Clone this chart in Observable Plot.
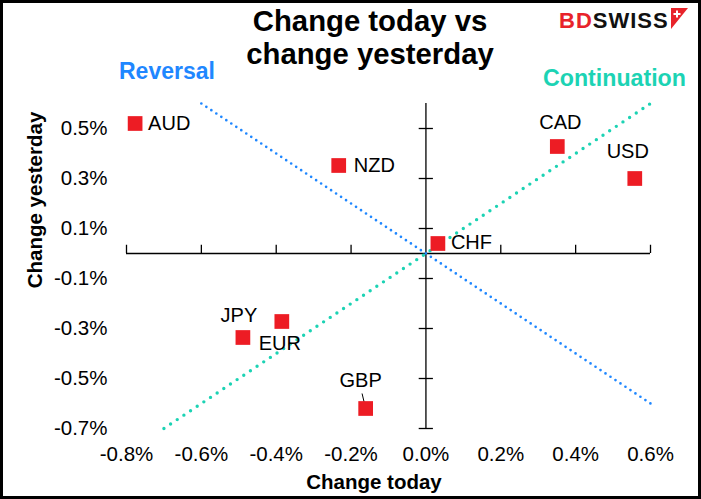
<!DOCTYPE html>
<html><head><meta charset="utf-8">
<script src="https://cdn.jsdelivr.net/npm/d3@7"></script>
<script src="https://cdn.jsdelivr.net/npm/@observablehq/plot@0.6"></script>
<style>
body{margin:0;background:#fff;font-family:"Liberation Sans",Arial,sans-serif}
#wrap{position:relative;width:701px;height:499px;overflow:hidden;background:#fff}
#chart{position:absolute;left:0;top:0}
#frame{position:absolute;left:0;top:0;width:701px;height:499px;box-sizing:border-box;border:3px solid #000;pointer-events:none}
.t{position:absolute;white-space:nowrap;font-weight:bold;font-family:"Liberation Sans",Arial,sans-serif}
</style></head><body>
<div id="wrap">
  <div id="chart"></div>
  <div class="t" style="left:220px;top:4px;width:300px;text-align:center;font-size:29.3px;line-height:33px;color:#000">Change today vs<br>change yesterday</div>
  <div class="t" style="left:119px;top:59px;font-size:23px;line-height:25px;color:#1f87ff">Reversal</div>
  <div class="t" style="left:543px;top:66px;font-size:23.2px;line-height:25px;color:#1cd3b4">Continuation</div>
  <div class="t" style="left:274px;top:470px;width:200px;text-align:center;font-size:20.5px;line-height:24px;color:#000">Change today</div>
  <div class="t" style="left:-65px;top:188px;width:200px;text-align:center;font-size:20.5px;line-height:24px;color:#000;transform:rotate(-90deg)">Change yesterday</div>
  <div class="t" style="left:559px;top:8px;font-size:22px;line-height:25px;letter-spacing:1px"><span style="color:#e8232a">BD</span><span style="color:#111">SWISS</span></div>
  <svg style="position:absolute;left:670px;top:7px" width="20" height="23" viewBox="0 0 20 23">
    <polygon points="1,1 18,1 1,22" fill="#e8232a"/>
    <rect x="6" y="3.5" width="2" height="7" fill="#fff"/>
    <rect x="3.5" y="6" width="7" height="2" fill="#fff"/>
  </svg>
  <div id="frame"></div>
</div>
<script>
const currencies = ["AUD","NZD","CAD","USD","CHF","JPY","EUR","GBP"];
const changeToday = [-0.777,-0.233,0.351,0.558,0.032,-0.489,-0.385,-0.161];
const changeYesterday = [0.52,0.352,0.428,0.30,0.04,-0.336,-0.272,-0.62];
const xTicks = [-0.8,-0.6,-0.4,-0.2,0,0.2,0.4,0.6];
const yTicks = [0.5,0.3,0.1,-0.1,-0.3,-0.5,-0.7];
const reversalX = [-0.6,0.6];
const reversalY = [0.6,-0.6];
const continuationX = [-0.7,0.6];
const continuationY = [-0.7,0.6];

const data = currencies.map((c,i)=>({c, x:changeToday[i], y:changeYesterday[i]}));
const reversal = reversalX.map((x,i)=>({x, y:reversalY[i]}));
const continuation = continuationX.map((x,i)=>({x, y:continuationY[i]}));

const labelLayout = {
  AUD:{dx:13,dy:0,a:"start"}, NZD:{dx:15,dy:0,a:"start"}, CAD:{dx:3,dy:-24,a:"middle"},
  USD:{dx:-7,dy:-27,a:"middle"}, CHF:{dx:13,dy:-1,a:"start"}, JPY:{dx:-4,dy:-22,a:"middle"},
  EUR:{dx:-2,dy:22,a:"middle"}, GBP:{dx:-5,dy:-28,a:"middle"}
};
const fmt = d => d.toFixed(1) + "%";

const chart = Plot.plot({
  width:701, height:499,
  marginLeft:126, marginRight:51, marginTop:103, marginBottom:71,
  x:{domain:[-0.8,0.6]}, y:{domain:[-0.7,0.6]},
  style:{fontFamily:"Liberation Sans, Arial, sans-serif", fontSize:"20.5px", color:"#000", background:"transparent"},
  marks:[
    Plot.axisX(xTicks,{tickSize:0, tickPadding:18, tickFormat:fmt, label:null, fontSize:20.5}),
    Plot.axisY(yTicks,{tickSize:0, tickPadding:19, tickFormat:fmt, label:null, fontSize:20.5}),
    Plot.ruleY([0],{x1:-0.8, x2:0.6, stroke:"#000", strokeWidth:1.3}),
    Plot.ruleX([0],{y1:-0.7, y2:0.6, stroke:"#000", strokeWidth:1.3}),
    Plot.ruleX(xTicks.filter(d=>d!==0),{x:d=>d, y1:0, y2:0.033, stroke:"#000", strokeWidth:1.3}),
    Plot.ruleY(yTicks,{y:d=>d, x1:-0.018, x2:0.02, stroke:"#000", strokeWidth:1.3}),
    Plot.line(continuation,{x:"x", y:"y", stroke:"#1cd3b4", strokeWidth:3.4, strokeDasharray:"0 8", strokeLinecap:"round"}),
    Plot.line(reversal,{x:"x", y:"y", stroke:"#1f87ff", strokeWidth:2.7, strokeDasharray:"0 6", strokeLinecap:"round"}),
    Plot.link(data.filter(d=>d.c==="GBP"),{x1:"x", y1:"y", x2:d=>d.x-0.0096, y2:d=>d.y+0.06, stroke:"#000", strokeWidth:1}),
    Plot.dot(data,{x:"x", y:"y", symbol:"square", r:8.3, fill:"#ed1c24", stroke:"none"}),
    ...data.map(d=>Plot.text([d],{x:"x", y:"y", text:"c", dx:labelLayout[d.c].dx, dy:labelLayout[d.c].dy, textAnchor:labelLayout[d.c].a, fontSize:20, fill:"#000"}))
  ]
});
document.getElementById("chart").appendChild(chart);
</script>
</body></html>
